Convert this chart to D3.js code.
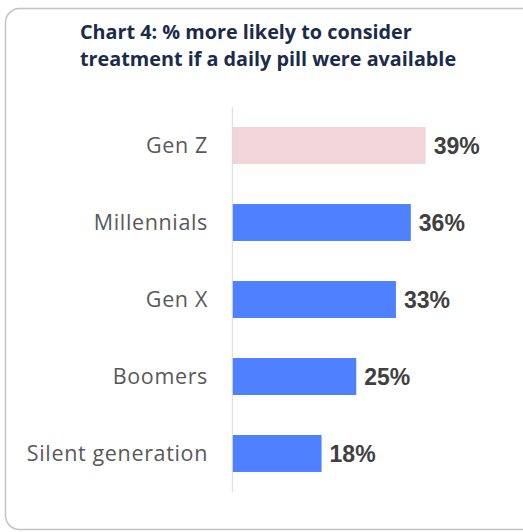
<!DOCTYPE html>
<html>
<head>
<meta charset="utf-8">
<script src="https://cdn.jsdelivr.net/npm/d3@7"></script>
<style>
  html, body { margin: 0; padding: 0; background: #fff; }
  svg { display: block; }
</style>
</head>
<body>
<div id="chart"></div>
<script>
const categories = ['Gen Z', 'Millennials', 'Gen X', 'Boomers', 'Silent generation'];
const values = [39, 36, 33, 25, 18];
const titleLines = ['Chart 4: % more likely to consider', 'treatment if a daily pill were available'];

const width = 523;
const height = 532;

const svg = d3.select('#chart')
  .append('svg')
  .attr('width', width)
  .attr('height', height);

// Card border
svg.append('rect')
  .attr('x', 5.5)
  .attr('y', 8.5)
  .attr('width', 530)
  .attr('height', 521)
  .attr('rx', 14)
  .attr('fill', '#fff')
  .attr('stroke', '#c4c4c4')
  .attr('stroke-width', 1.5);

// Title
svg.append('text')
  .attr('x', 80)
  .attr('y', 39)
  .attr('fill', '#1a2b4c')
  .style('font-family', '"Open Sans", sans-serif')
  .style('font-weight', 'bold')
  .style('font-size', '19.8px')
  .selectAll('tspan')
  .data(titleLines)
  .join('tspan')
  .attr('x', 80)
  .attr('dy', (d, i) => i ? 27 : 0)
  .text(d => d);

const x = d3.scaleLinear()
  .domain([0, 39])
  .range([232.3, 425.7]);

const y = d3.scaleBand()
  .domain(categories)
  .range([107, 492])
  .paddingInner(0.52)
  .paddingOuter(0.26);

const data = categories.map((c, i) => ({ cat: c, value: values[i] }));

svg.append('g')
  .selectAll('rect')
  .data(data)
  .join('rect')
  .attr('x', x(0))
  .attr('y', d => y(d.cat))
  .attr('width', d => x(d.value) - x(0))
  .attr('height', y.bandwidth())
  .attr('fill', (d, i) => i === 0 ? '#f2d5da' : '#4f80ff');

// Axis line
svg.append('line')
  .attr('x1', x(0))
  .attr('x2', x(0))
  .attr('y1', y.range()[0])
  .attr('y2', y.range()[1])
  .attr('stroke', '#d9d9d9')
  .attr('stroke-width', 1);

// Category labels
svg.append('g')
  .selectAll('text')
  .data(data)
  .join('text')
  .attr('x', 208)
  .attr('y', d => y(d.cat) + y.bandwidth() / 2)
  .attr('dy', '0.35em')
  .attr('text-anchor', 'end')
  .attr('fill', '#595959')
  .style('font-family', '"Open Sans", sans-serif')
  .style('font-size', '21.5px')
  .style('letter-spacing', '0.65px')
  .text(d => d.cat);

// Value labels
svg.append('g')
  .selectAll('text')
  .data(data)
  .join('text')
  .attr('x', d => x(d.value) + 8)
  .attr('y', d => y(d.cat) + y.bandwidth() / 2)
  .attr('dy', '0.36em')
  .attr('fill', '#404040')
  .style('font-family', '"Liberation Sans", Arial, sans-serif')
  .style('font-weight', 'bold')
  .style('font-size', '23px')
  .text(d => d.value + '%');
</script>
</body>
</html>
